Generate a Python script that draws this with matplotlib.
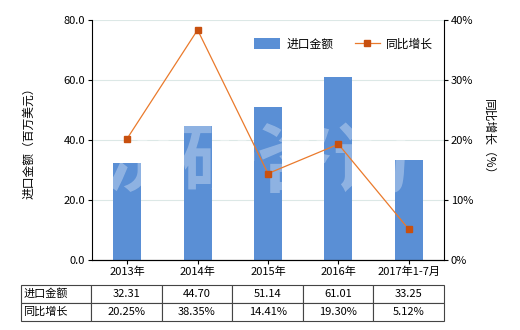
import matplotlib
matplotlib.use("Agg")
import matplotlib.pyplot as plt
import numpy as np

plt.rcParams['font.family'] = ['Noto Sans CJK SC', 'DejaVu Sans']

# 数据
categories = ['2013年', '2014年', '2015年', '2016年', '2017年1-7月']
amount = [32.31, 44.70, 51.14, 61.01, 33.25]
growth = [20.25, 38.35, 14.41, 19.30, 5.12]
amount_txt = ['32.31', '44.70', '51.14', '61.01', '33.25']
growth_txt = ['20.25%', '38.35%', '14.41%', '19.30%', '5.12%']

fig = plt.figure(figsize=(5.2, 3.3), dpi=100)
ax = fig.add_axes([92/520, 1 - 260/330, 352/520, 240/330])
x = np.arange(len(categories))

ax.set_axisbelow(True)
ax.grid(axis='y', color='#dce8e6', linewidth=0.8)
ax.bar(x, amount, width=0.4, color='#5a8fd5', label='进口金额', zorder=2)
ax.set_xlim(-0.5, 4.5)
ax.set_ylim(0, 80)
ax.set_yticks([0, 20, 40, 60, 80])
ax.set_yticklabels(['0.0', '20.0', '40.0', '60.0', '80.0'])
ax.set_xticks(x)
ax.set_xticklabels(categories)
ax.tick_params(labelsize=8, length=3, width=0.8, pad=2)
ax.set_ylabel('进口金额（百万美元）', fontsize=8.5, labelpad=20)
ax.spines['top'].set_visible(False)
ax.spines['right'].set_visible(False)

ax2 = ax.twinx()
ax2.plot(x, growth, color='#ea7a2c', linewidth=0.9, marker='s', markersize=4.5,
         markerfacecolor='#c8500f', markeredgecolor='#c8500f', label='同比增长', zorder=3)
ax2.set_ylim(0, 40)
ax2.set_yticks([0, 10, 20, 30, 40])
ax2.set_yticklabels(['0%', '10%', '20%', '30%', '40%'])
ax2.tick_params(labelsize=8, length=3, width=0.8, pad=2)
ax2.set_ylabel('同比增长（%）', fontsize=8.5, rotation=270, labelpad=16)
ax2.spines['top'].set_visible(False)
ax2.spines['left'].set_visible(False)

# 水印
ax.text(0.47, 0.40, '济研咨询', transform=ax.transAxes, ha='center', va='center',
        fontsize=55, fontweight='bold', color='white', alpha=0.32, zorder=4)

h1, l1 = ax.get_legend_handles_labels()
h2, l2 = ax2.get_legend_handles_labels()
ax2.legend(h1 + h2, l1 + l2, loc='upper right', bbox_to_anchor=(1.0, 0.97), ncol=2,
           frameon=False, prop={'size': 8.5}, handlelength=2.2, handleheight=1.1,
           handletextpad=0.5, columnspacing=1.8)

# 表格
cell_text = [['进口金额'] + amount_txt, ['同比增长'] + growth_txt]
tab = ax.table(cellText=cell_text, cellLoc='center',
               bbox=[(21 - 92) / 352, (260 - 321) / 240, (444 - 21) / 352, 36 / 240],
               colWidths=[70] + [70.4] * 5)
tab.auto_set_font_size(False)
tab.set_fontsize(8)
for (r, c), cell in tab.get_celld().items():
    cell.set_edgecolor('#444444')
    cell.set_linewidth(0.8)
    if c == 0:
        cell.set_text_props(ha='left')
        cell.PAD = 0.03

fig.savefig('out.png', dpi=100)
